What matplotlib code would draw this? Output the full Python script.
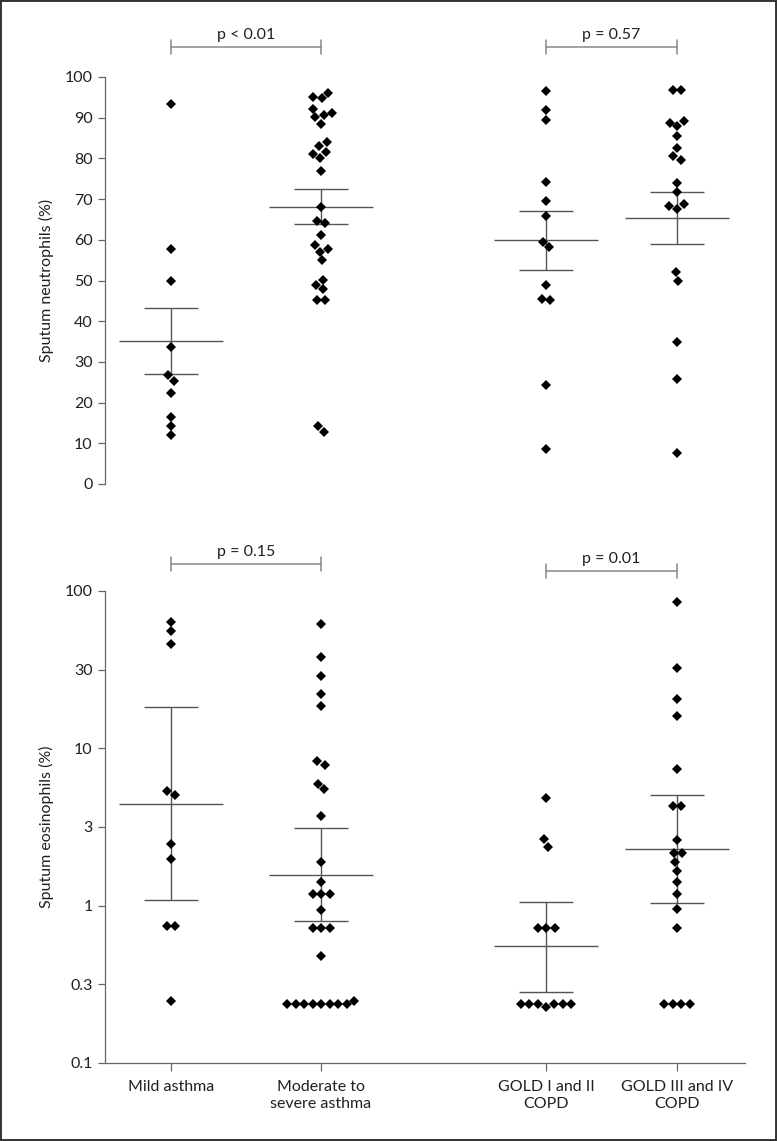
import numpy as np
import matplotlib.pyplot as plt
from matplotlib.patches import Rectangle
from matplotlib.transforms import offset_copy

plt.rcParams['font.family'] = ['Lato', 'DejaVu Sans']

groups = ['Mild asthma', 'Moderate to\nsevere asthma', 'GOLD I and II\nCOPD', 'GOLD III and IV\nCOPD']

# sputum neutrophils (%)
neu_mild = [93.3, 57.8, 49.9, 33.6, 26.8, 25.3, 22.3, 16.5, 14.3, 12.1]
neu_moderate = [96.1, 95.0, 94.8, 92.1, 91.2, 90.7, 90.1, 88.5, 84.0, 83.0, 81.6, 81.0,
                80.0, 76.9, 68.0, 64.7, 64.2, 61.2, 58.7, 57.8, 57.0, 55.0, 50.1, 48.9,
                47.8, 45.2, 45.2, 14.3, 12.7]
neu_gold12 = [96.5, 91.8, 89.4, 74.1, 69.6, 65.8, 59.5, 58.2, 48.9, 45.5, 45.1, 24.3, 8.6]
neu_gold34 = [96.7, 96.7, 89.2, 88.7, 87.9, 85.4, 82.6, 80.5, 79.5, 74.0, 71.7, 68.8,
              68.2, 67.5, 52.0, 50.0, 35.0, 25.9, 7.7]
neu_mean = [35.1, 68.0, 59.9, 65.4]
neu_upper = [43.2, 72.5, 67.0, 71.7]
neu_lower = [27.1, 63.9, 52.5, 59.0]

# sputum eosinophils (%)
eos_mild = [63.2, 55.7, 46.3, 5.37, 5.05, 2.47, 1.97, 0.741, 0.741, 0.249]
eos_moderate = [61.9, 38.0, 29.0, 22.3, 18.7, 8.26, 7.87, 5.96, 5.48, 3.73, 1.90, 1.42,
                1.19, 1.19, 1.19, 0.94, 0.717, 0.717, 0.717, 0.481, 0.249,
                0.237, 0.237, 0.237, 0.237, 0.237, 0.237, 0.237, 0.237]
eos_gold12 = [4.81, 2.64, 2.37, 0.717, 0.717, 0.717,
              0.237, 0.237, 0.237, 0.228, 0.237, 0.237, 0.237]
eos_gold34 = [85.1, 32.5, 20.5, 16.1, 7.35, 4.28, 4.28, 2.62, 2.15, 2.15, 1.90, 1.65,
              1.42, 1.19, 0.946, 0.717, 0.237, 0.237, 0.237, 0.237]
eos_mean = [4.41, 1.57, 0.551, 2.30]
eos_upper = [18.3, 3.10, 1.06, 5.05]
eos_lower = [1.09, 0.794, 0.284, 1.04]

p_top = ['p < 0.01', 'p = 0.57']
p_bottom = ['p = 0.15', 'p = 0.01']

# layout (x in pixels of the 777 px wide figure)
XPOS = [171, 321, 546, 677]
INK = '#231f20'
LINE = '#666666'
FS = 11.5

fig = plt.figure(figsize=(7.77, 11.41), dpi=100)
ax1 = fig.add_axes([105 / 777, 1 - 484 / 1141, 640 / 777, 407 / 1141])
ax2 = fig.add_axes([105 / 777, 1 - 1063 / 1141, 640 / 777, 472 / 1141])


def swarm(ax, xc, vals, d=8.5):
    ys = ax.transData.transform(np.column_stack([np.full(len(vals), xc), vals]))[:, 1]
    order = np.argsort(ys, kind='stable')
    offs = np.zeros(len(vals))
    placed = []
    for i in order:
        y = ys[i]
        near = [(px, py) for px, py in placed if abs(py - y) < d]
        cands = [0.0]
        for px, py in near:
            w = np.sqrt(d ** 2 - (py - y) ** 2)
            cands += [px - w, px + w]
        cands.sort(key=abs)
        for c in cands:
            if all((c - px) ** 2 + (y - py) ** 2 >= d ** 2 - 1e-6 for px, py in near):
                offs[i] = c
                break
        placed.append((offs[i], y))
    # centre every run of touching points on the category
    run = [order[0]]
    for a, b in zip(order[:-1], order[1:]):
        if ys[b] - ys[a] < d:
            run.append(b)
        else:
            offs[run] -= offs[run].mean()
            run = [b]
    offs[run] -= offs[run].mean()
    return xc + offs


def draw_panel(ax, data, mean, upper, lower):
    for xc, vals in zip(XPOS, data):
        ax.plot(swarm(ax, xc, vals), vals, 'D', color='black', ms=4.9, mew=0, zorder=3)
    for xc, m, u, l in zip(XPOS, mean, upper, lower):
        ax.hlines(m, xc - 52, xc + 52, color='#555555', lw=1.0, zorder=2)
        ax.hlines([u, l], xc - 27, xc + 27, color='#555555', lw=1.0, zorder=2)
        ax.vlines(xc, l, u, color='#555555', lw=1.0, zorder=2)


def bracket(ax, x0, x1, dy, text):
    def tr(off):
        return offset_copy(ax.get_xaxis_transform(), fig=fig, y=off, units='dots')
    ax.plot([x0, x1], [1, 1], color='#888888', lw=1.1, transform=tr(dy), clip_on=False)
    for xx in (x0, x1):
        ax.annotate('', xy=(xx, 1), xycoords=tr(dy - 7), xytext=(xx, 1), textcoords=tr(dy + 7),
                    arrowprops=dict(arrowstyle='-', color='#888888', lw=1.1, shrinkA=0, shrinkB=0))
    ax.text((x0 + x1) / 2, 1, text, transform=tr(dy + 5), ha='center', va='bottom',
            fontsize=FS, color=INK)


for ax in (ax1, ax2):
    ax.set_xlim(105, 745)
    for s in ('top', 'right'):
        ax.spines[s].set_visible(False)
    for s in ('left', 'bottom'):
        ax.spines[s].set_color(LINE)
        ax.spines[s].set_linewidth(0.9)
    ax.tick_params(direction='out', length=5, width=0.9, color=LINE, labelsize=FS,
                   labelcolor=INK, pad=4)

# top panel
ax1.set_ylim(0, 100)
ax1.set_yticks(np.arange(0, 101, 10))
ax1.spines['bottom'].set_visible(False)
ax1.set_xticks([])
ax1.set_ylabel('Sputum neutrophils (%)', fontsize=FS, color=INK)
ax1.yaxis.set_label_coords(-0.08, 0.5)
draw_panel(ax1, [neu_mild, neu_moderate, neu_gold12, neu_gold34], neu_mean, neu_upper, neu_lower)
bracket(ax1, XPOS[0], XPOS[1], 30, p_top[0])
bracket(ax1, XPOS[2], XPOS[3], 30, p_top[1])

# bottom panel
ax2.set_yscale('log')
ax2.set_ylim(0.1, 100)
ax2.set_yticks(10 ** np.arange(2, -1.01, -0.5))
ax2.set_yticklabels(['100', '30', '10', '3', '1', '0.3', '0.1'])
ax2.minorticks_off()
ax2.set_xticks(XPOS)
ax2.set_xticklabels(groups, linespacing=1.3)
ax2.tick_params(axis='x', length=6, pad=6)
ax2.set_ylabel('Sputum eosinophils (%)', fontsize=FS, color=INK)
ax2.yaxis.set_label_coords(-0.08, 0.5)
draw_panel(ax2, [eos_mild, eos_moderate, eos_gold12, eos_gold34], eos_mean, eos_upper, eos_lower)
bracket(ax2, XPOS[0], XPOS[1], 27, p_bottom[0])
bracket(ax2, XPOS[2], XPOS[3], 20, p_bottom[1])

fig.patches.append(Rectangle((0, 0), 1, 1, transform=fig.transFigure, fill=False,
                             lw=2.8, ec='#333333'))

fig.savefig('out.png', dpi=100)
